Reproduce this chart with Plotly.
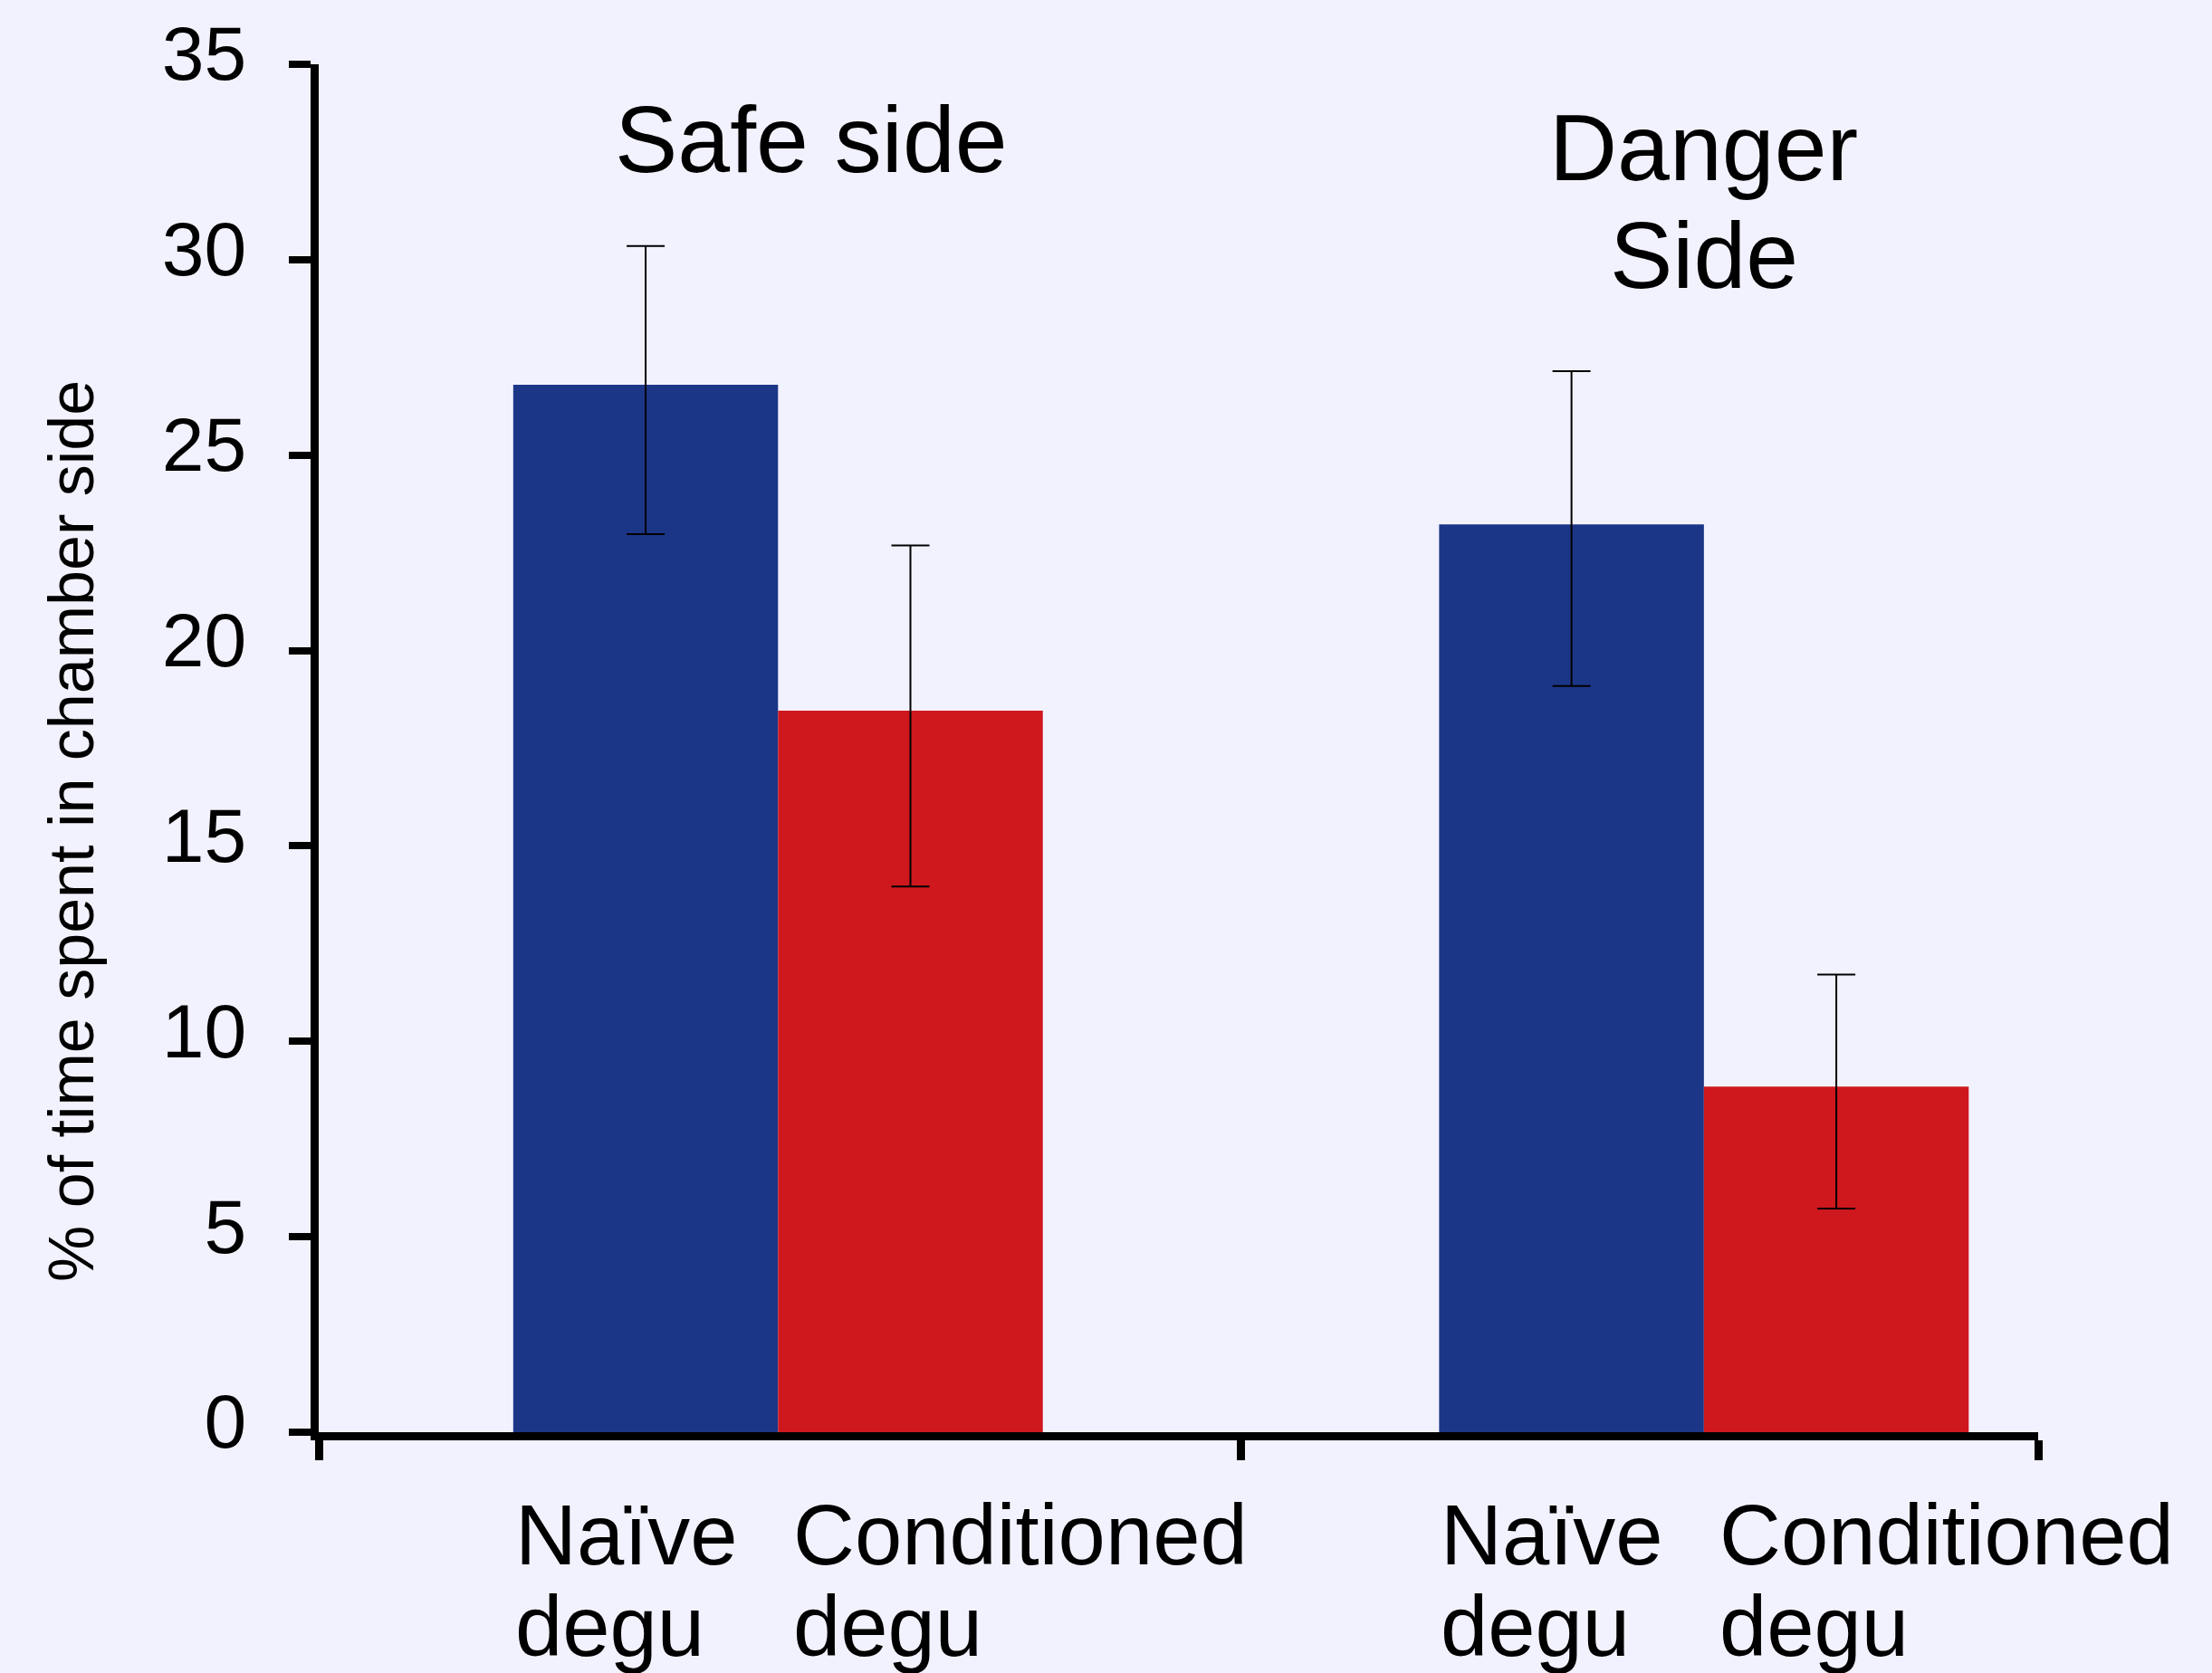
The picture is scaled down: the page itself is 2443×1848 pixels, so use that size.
import plotly.graph_objects as go

# ---- data ----
group_labels = ["Safe side", "Danger<br>Side"]
group_pos = [1, 2]
series_names = ["Naïve degu", "Conditioned degu"]
naive_vals = [26.8, 23.23]
naive_err_plus = [3.55, 3.92]
naive_err_minus = [3.82, 4.14]
cond_vals = [18.46, 8.84]
cond_err_plus = [4.23, 2.87]
cond_err_minus = [4.50, 3.12]
y_ticks = [0, 5, 10, 15, 20, 25, 30, 35]
y_title = "% of time spent in chamber side"

BLUE = "#1C3687"
RED = "#CE181E"
BG = "#F2F2FE"
FONT = "Liberation Sans, Arial, sans-serif"
BAR_W = 0.286  # fraction of category spacing per bar
PX_PER_CAT = 1022.0
LW = 9  # axis line width
HALF = 4  # plotly draws axis lines outside the plot area
X_RANGE = [0.5 + HALF / PX_PER_CAT, 2.361]

W, H = 2443, 1848
ML, MR, MT, MB = 348 + HALF, 192, 62, 266
PH = H - MT - MB
Y_RANGE = [0, 35]


def py(px):  # pixel y -> paper y
    return (H - MB - px) / PH


fig = go.Figure()
for name, vals, ep, em, col in [
    (series_names[0], naive_vals, naive_err_plus, naive_err_minus, BLUE),
    (series_names[1], cond_vals, cond_err_plus, cond_err_minus, RED),
]:
    fig.add_trace(go.Bar(
        x=group_pos, y=vals, name=name, marker=dict(color=col, line=dict(width=0)),
        error_y=dict(type="data", array=ep, arrayminus=em, symmetric=False,
                     color="black", thickness=2, width=21),
    ))

annotations = []
# group titles
annotations.append(dict(text="Safe side", x=group_pos[0], xref="x", xshift=37,
                        y=py(145), yref="paper", xanchor="center", yanchor="middle",
                        showarrow=False, font=dict(size=104, color="black", family=FONT)))
for line, ypx in zip(group_labels[1].split("<br>"), [155, 274]):
    annotations.append(dict(text=line, x=group_pos[1], xref="x",
                            y=py(ypx), yref="paper", xanchor="center", yanchor="middle",
                            showarrow=False, font=dict(size=104, color="black", family=FONT)))
# x labels under each bar
for gp in group_pos:
    for i, nm in enumerate(series_names):
        left = gp - BAR_W + i * BAR_W
        w1, w2 = nm.split(" ")
        for word, ypx in [(w1, 1696), (w2, 1798)]:
            annotations.append(dict(text=word, x=left, xref="x", xshift=(0 if i == 0 else 15),
                                    y=py(ypx), yref="paper", xanchor="left", yanchor="middle",
                                    showarrow=False,
                                    font=dict(size=94, color="black", family=FONT)))
# y title
annotations.append(dict(text=y_title, textangle=-90, x=(79 - ML) / (W - ML - MR), xref="paper",
                        y=py(914), yref="paper", xanchor="center", yanchor="middle",
                        showarrow=False, font=dict(size=70, color="black", family=FONT)))

fig.update_layout(
    width=W, height=H,
    margin=dict(l=ML, r=MR, t=MT, b=MB),
    paper_bgcolor=BG, plot_bgcolor=BG,
    barmode="group", bargap=1 - 2 * BAR_W, bargroupgap=0,
    showlegend=False,
    font=dict(family=FONT, color="black"),
    annotations=annotations,
    xaxis=dict(range=X_RANGE, showgrid=False, zeroline=False, showline=True,
               linecolor="black", linewidth=LW, ticks="outside",
               tickvals=[X_RANGE[0], 1.5, X_RANGE[1]], ticklen=22, tickwidth=9,
               tickcolor="black", showticklabels=False),
    yaxis=dict(range=Y_RANGE, showgrid=False, zeroline=False, showline=True,
               linecolor="black", linewidth=LW, ticks="outside", tickvals=y_ticks,
               ticklen=24, tickwidth=8, tickcolor="black",
               tickfont=dict(size=84, family=FONT, color="black"),
               ticklabelstandoff=30, ticklabelshift=-12),
)

fig.write_html("out.html", config={"displayModeBar": False},
               post_script="document.body.style.margin='0';document.body.style.overflow='hidden';")
